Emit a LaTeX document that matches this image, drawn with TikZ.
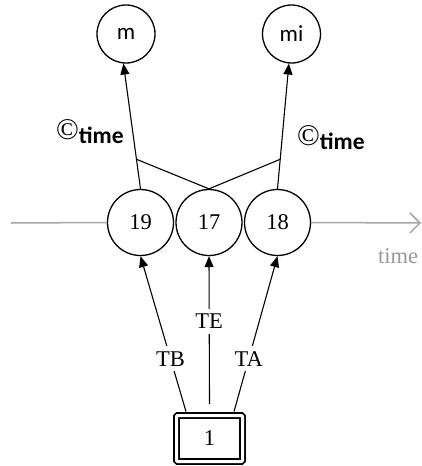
\documentclass[tikz,border=0pt]{standalone}
\usepackage{fontspec}
\setmainfont{Liberation Serif}
\newfontfamily\carlito{Carlito}
\usetikzlibrary{arrows.meta,calc}
\begin{document}
\begin{tikzpicture}[x=1pt,y=-1pt,
  every node/.style={font=\fontsize{22.5}{26}\selectfont},
  circ/.style={circle,draw,line width=1.3pt,inner sep=0pt,fill=white},
  sans/.style={font=\carlito\fontsize{23}{26}\selectfont},
  arr/.style={line width=1.1pt,-{Triangle[length=11pt,width=9pt]}},
  thin/.style={line width=1.1pt},
  tline/.style={line width=1.5pt,draw=black!35},
  lab/.style={fill=white,inner sep=5pt},
  dbox/.style={draw,double,line width=1.8pt,double distance=3pt,minimum width=66pt,minimum height=46pt,inner sep=0pt,rounded corners=1pt},
  copy/.style={anchor=base west,inner sep=0pt}
]
\useasboundingbox (0,0) rectangle (422,466);
% time axis
\coordinate (tl) at (11,223);
\coordinate (tr) at (421,223);
\node[circ,minimum size=66pt] (n19) at (140.5,222.5) {19};
\node[circ,minimum size=66pt] (n17) at (209,222.5) {17};
\node[circ,minimum size=66pt] (n18) at (277.5,222.5) {18};
\draw[tline] (tl) -- (n19.west);
\draw[tline,-{Straight Barb[length=10pt,width=20pt]}] (n18.east) -- (tr);
\node[text=black!40] (tlab) at (398,256) {time};
% top nodes
\node[circ,minimum size=58pt,sans] (m) at (126,34) {m};
\node[circ,minimum size=58pt,sans] (mi) at (291.5,34) {mi};
\draw[arr] (n19.north) -- coordinate[pos=0.236] (cl) (m.265);
\draw[arr] (n18.north) -- coordinate[pos=0.236] (cr) (mi.265);
\draw[thin] (cl) -- (n17.north) -- (cr);
\node[copy] (c1) at (56,139) {{\fontsize{30}{32}\selectfont ©}\raisebox{-4.5pt}{\carlito\bfseries\fontsize{23.5}{26}\selectfont time}};
\node[copy] (c2) at (297,145) {{\fontsize{30}{32}\selectfont ©}\raisebox{-4pt}{\carlito\bfseries\fontsize{23.5}{26}\selectfont time}};
% bottom box
\node[dbox] (box) at (209.5,438.5) {1};
\draw[arr] ([xshift=-23.5pt,yshift=3pt]box.north) -- node[lab,pos=.34]{TB} (n19.south);
\draw[arr] ([yshift=10.5pt]box.north) -- node[lab,pos=.56]{TE} (n17.south);
\draw[arr] ([xshift=24.5pt,yshift=3pt]box.north) -- node[lab,pos=.34]{TA} (n18.south);
\end{tikzpicture}
\end{document}
